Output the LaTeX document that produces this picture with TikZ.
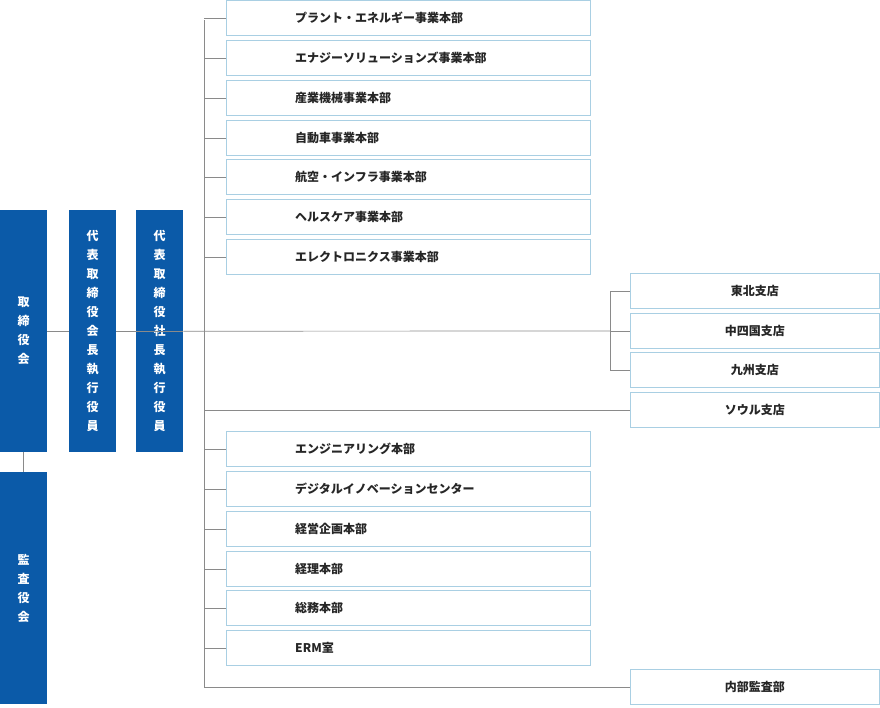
\documentclass[tikz,border=0pt]{standalone}
\usepackage{fontspec}
\newfontfamily\jp{Noto Sans CJK JP}
\definecolor{bl}{HTML}{0B5AA8}
\definecolor{bd}{HTML}{A9CFE3}
\definecolor{ln}{HTML}{8A8A8A}
\begin{document}
\begin{tikzpicture}[x=1pt,y=-1pt,
 vbox/.style={fill=bl,draw=none,minimum width=47pt,inner sep=0pt,text=white,font=\jp\bfseries\fontsize{12}{19}\selectfont,align=center},
 dept/.style={draw=bd,line width=0.8pt,minimum width=364pt,minimum height=35pt,inner sep=0pt,font=\jp\bfseries\fontsize{12}{14}\selectfont,text=black!85},
 br/.style={draw=bd,line width=0.8pt,minimum width=249pt,minimum height=35pt,inner sep=0pt,font=\jp\bfseries\fontsize{12}{14}\selectfont,text=black!85},
 con/.style={draw=ln,line width=0.7pt}]
\useasboundingbox (0,0) rectangle (880,707);
\node[vbox,minimum height=242pt,anchor=north west] (bod) at (0,210) {取\\締\\役\\会};
\node[vbox,minimum height=232pt,anchor=north west] (aud) at (0,472) {監\\査\\役\\会};
\node[vbox,minimum height=242pt,anchor=north west] (ch) at (69,210) {代\\表\\取\\締\\役\\会\\長\\執\\行\\役\\員};
\node[vbox,minimum height=242pt,anchor=north west] (pr) at (136,210) {代\\表\\取\\締\\役\\社\\長\\執\\行\\役\\員};
\draw[con] (bod.south) -- (aud.north);
\draw[con] (bod.east) -- (ch.west);
\draw[con] (ch.east) -- (pr.east);
\coordinate (top) at (204,20);
\coordinate (bot) at (204,687);
\draw[con] (top) -- (bot);
\foreach \i/\y/\t in {1/18/プラント・エネルギー事業本部,2/58/エナジーソリューションズ事業本部,3/98/産業機械事業本部,4/138/自動車事業本部,5/177/航空・インフラ事業本部,6/217/ヘルスケア事業本部,7/257/エレクトロニクス事業本部,8/449/エンジニアリング本部,9/489/デジタルイノベーションセンター,10/529/経営企画本部,11/569/経理本部,12/608/総務本部,13/648/ERM室}{
 \node[dept,anchor=west] (d\i) at (226,\y) {};
 \node[anchor=west,inner sep=0pt,font=\jp\bfseries\fontsize{12}{14}\selectfont,text=black!85] (t\i) at (295,\y) {\t};
 \draw[con] (204,\y) -- (d\i.west);
}
\draw[con] (pr.east) -- (610,331);
\coordinate (jt) at (610,291);
\coordinate (jb) at (610,370);
\draw[con] (jt) -- (jb);
\foreach \n/\y/\t in {b1/291/東北支店,b2/331/中四国支店,b3/370/九州支店}{
 \node[br,anchor=west] (\n) at (630,\y) {\t};
 \draw[con] (610,\y) -- (\n.west);
}
\node[br,anchor=west] (b4) at (630,410) {ソウル支店};
\draw[con] (204,410) -- (b4.west);
\node[br,anchor=west] (b5) at (630,687) {内部監査部};
\draw[con] (bot) -- (b5.west);
\end{tikzpicture}
\end{document}
